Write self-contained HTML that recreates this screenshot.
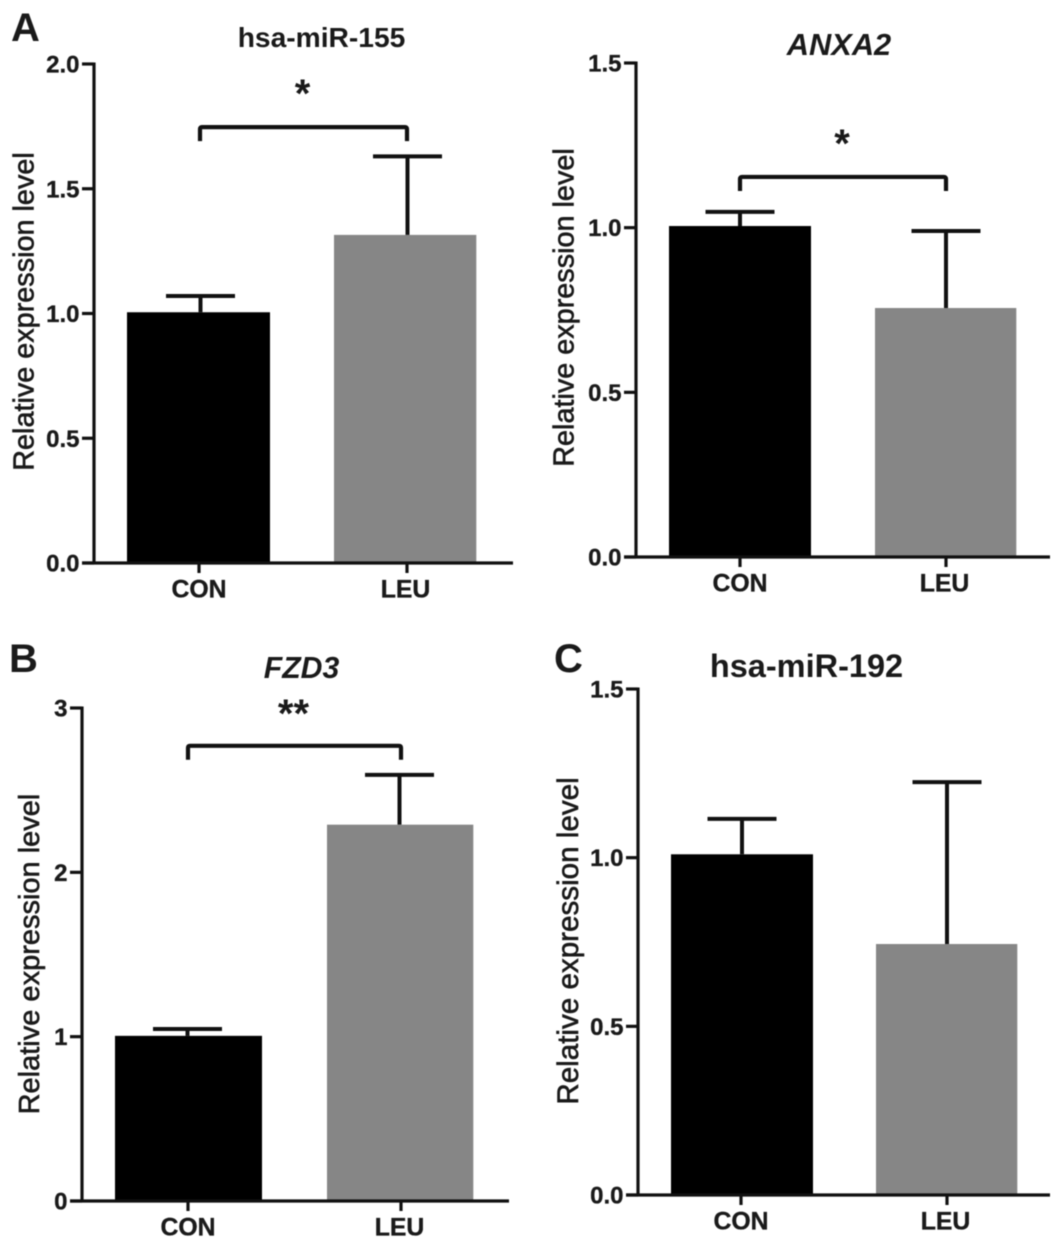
<!DOCTYPE html>
<html lang="en">
<head>
<meta charset="utf-8">
<title>Relative expression levels</title>
<style>
html,body{margin:0;padding:0;background:#fff;}
#figure{display:block;width:1063px;height:1250px;filter:blur(0.5px);}
text{font-family:"Liberation Sans",sans-serif;fill:#1a1a1a;}
</style>
</head>
<body>
<svg id="figure" xmlns="http://www.w3.org/2000/svg" width="1063" height="1250" viewBox="0 0 1063 1250"></svg>
<script>
// Shared category labels and y-axis title
const categories = ['CON', 'LEU'];
const yAxisTitle = 'Relative expression level';

// Panel titles and letters
const panelTitles = ['hsa-miR-155', 'ANXA2', 'FZD3', 'hsa-miR-192'];
const panelLetters = ['A', '', 'B', 'C'];

// Tick labels per panel
const ticksMir155 = ['0.0', '0.5', '1.0', '1.5', '2.0'];
const ticksAnxa2 = ['0.0', '0.5', '1.0', '1.5'];
const ticksFzd3 = ['0', '1', '2', '3'];
const ticksMir192 = ['0.0', '0.5', '1.0', '1.5'];

// Bar means per panel (CON, LEU)
const meansMir155 = [1.005, 1.315];
const meansAnxa2 = [1.005, 0.756];
const meansFzd3 = [1.005, 2.29];
const meansMir192 = [1.01, 0.744];

// Error-bar upper values per panel (CON, LEU)
const upperMir155 = [1.07, 1.63];
const upperAnxa2 = [1.048, 0.99];
const upperFzd3 = [1.047, 2.593];
const upperMir192 = [1.115, 1.224];

// Significance brackets: level on the y scale, and the printed mark
const bracketLevels = [1.747, 1.154, 2.77, null];
const bracketMarks = ['*', '*', '**', ''];

const svg = document.getElementById('figure');
const NS = 'http://www.w3.org/2000/svg';

function make(parent, tag, attrs, content) {
  const el = document.createElementNS(NS, tag);
  for (const k in attrs) el.setAttribute(k, attrs[k]);
  if (content !== undefined) el.textContent = content;
  parent.appendChild(el);
  return el;
}

function drawPanel(opt, ticks, means, upper, index) {
  const g = make(svg, 'g', {});
  
  

  const yMax = parseFloat(ticks[ticks.length - 1]);
  const yScale = function (v) { return opt.y0 - (v / yMax) * (opt.y0 - opt.y1); };
  const xCenter = function (i) { return opt.tickX[0] + i * (opt.tickX[1] - opt.tickX[0]); };
  const barLeft = function (i) { return opt.barX + i * opt.barStep; };

  // bars
  means.forEach(function (m, i) {
    const bar = make(g, 'rect', {
      x: barLeft(i), y: yScale(m), width: opt.barW - i * 0.7, height: opt.y0 - yScale(m),
      fill: i === 0 ? '#000000' : '#868686'
    });
    
    
  });

  // error bars
  upper.forEach(function (u, i) {
    const cx = barLeft(i) + opt.barW / 2 + opt.errDx;
    const path = make(g, 'path', {
      d: 'M' + cx + ' ' + yScale(means[i]) + 'V' + yScale(u) + 'M' + (cx - 34.5) + ' ' + yScale(u) + 'H' + (cx + 34.5),
      fill: 'none', stroke: '#111', 'stroke-width': 4
    });
    
    
  });

  // axes
  const yLine = make(g, 'path', {
    d: 'M' + opt.x0 + ' ' + (opt.y1 - 1.5) + 'V' + (opt.y0 + 1.5),
    fill: 'none', stroke: '#111', 'stroke-width': 3.2
  });
  
  

  const xLine = make(g, 'path', {
    d: 'M' + (opt.x0 - 12) + ' ' + opt.y0 + 'H' + opt.xEnd,
    fill: 'none', stroke: '#111', 'stroke-width': 3.2
  });
  
  

  // y ticks
  ticks.forEach(function (t) {
    const y = yScale(parseFloat(t));
    const tick = make(g, 'path', {
      d: 'M' + (opt.x0 - 12) + ' ' + y + 'H' + opt.x0,
      fill: 'none', stroke: '#111', 'stroke-width': 3.2
    });
    
    
    const label = make(g, 'text', {
      x: opt.x0 - 14.5, y: y + 8.5, 'text-anchor': 'end',
      'font-size': 24, 'font-weight': 'bold', stroke: '#1a1a1a', 'stroke-width': 0.35
    }, t);
    
    
  });

  // x ticks
  categories.forEach(function (c, i) {
    const tick = make(g, 'path', {
      d: 'M' + xCenter(i) + ' ' + opt.y0 + 'V' + (opt.y0 + 10),
      fill: 'none', stroke: '#111', 'stroke-width': 3.2
    });
    
    
    const label = make(g, 'text', {
      x: xCenter(i) + (i === 0 ? 0 : -1.5), y: opt.y0 + 34.5, 'text-anchor': 'middle',
      'font-size': 24.8, 'font-weight': 'bold', stroke: '#1a1a1a', 'stroke-width': 0.35
    }, c);
    
    
  });

  // y-axis title
  const yTitle = make(g, 'text', {
    transform: 'translate(' + opt.yTitleX + ' ' + opt.yTitleY + ') rotate(-90)',
    'text-anchor': 'middle', 'font-size': opt.yTitleSize, stroke: '#1a1a1a', 'stroke-width': 0.6
  }, yAxisTitle);
  
  

  // panel title
  const title = make(g, 'text', {
    x: opt.titleX, y: opt.titleY, 'text-anchor': 'middle',
    'font-size': opt.titleSize, 'font-weight': 'bold',
    'font-style': opt.italic ? 'italic' : 'normal'
  }, panelTitles[index]);
  
  

  // panel letter
  if (panelLetters[index]) {
    const letter = make(g, 'text', {
      x: opt.letterX, y: opt.letterY, 'font-size': 40, 'font-weight': 'bold'
    }, panelLetters[index]);
    
    
  }

  // significance bracket
  if (bracketLevels[index] !== null) {
    const by = yScale(bracketLevels[index]);
    const bx0 = xCenter(0) + opt.brDx[0];
    const bx1 = xCenter(1) + opt.brDx[1];
    const bracket = make(g, 'path', {
      d: 'M' + bx0 + ' ' + (by + 14) + 'V' + (by + 2) + 'Q' + bx0 + ' ' + by + ' ' + (bx0 + 2) + ' ' + by +
         'H' + (bx1 - 2) + 'Q' + bx1 + ' ' + by + ' ' + bx1 + ' ' + (by + 2) + 'V' + (by + 14),
      fill: 'none', stroke: '#111', 'stroke-width': 4.2
    });
    
    
    const mark = make(g, 'text', {
      x: (bx0 + bx1) / 2 - 1, y: by + opt.markDy, 'text-anchor': 'middle',
      'font-size': 40, 'font-weight': 'bold'
    }, bracketMarks[index]);
    
    
  }
}

drawPanel({slug:'mir-155', x0:94, xEnd:513, y0:563, y1:64, barX:127, barW:143, barStep:207, tickX:[199,407], errDx:2, brDx:[1,0],
  yTitleX:33.5, yTitleY:311.5, yTitleSize:28.8, titleX:321.5, titleY:47, titleSize:28.2, italic:false, letterX:11, letterY:41, markDy:-20}, ticksMir155, meansMir155, upperMir155, 0);
drawPanel({slug:'anxa2', x0:636, xEnd:1050, y0:557, y1:63, barX:669, barW:142, barStep:206, tickX:[740,946], errDx:0, brDx:[0,0],
  yTitleX:573.5, yTitleY:307.5, yTitleSize:28.8, titleX:839, titleY:55, titleSize:30.8, italic:true, letterX:0, letterY:0, markDy:-20}, ticksAnxa2, meansAnxa2, upperAnxa2, 1);
drawPanel({slug:'fzd3', x0:82, xEnd:509, y0:1201, y1:708, barX:115, barW:147, barStep:212, tickX:[188,401], errDx:-1, brDx:[0,0],
  yTitleX:39, yTitleY:954, yTitleSize:29, titleX:301.5, titleY:678, titleSize:30.2, italic:true, letterX:9, letterY:672, markDy:-19}, ticksFzd3, meansFzd3, upperFzd3, 2);
drawPanel({slug:'mir-192', x0:638, xEnd:1050, y0:1195, y1:689, barX:671, barW:142, barStep:205, tickX:[741,947], errDx:0, brDx:[0,0],
  yTitleX:578, yTitleY:941, yTitleSize:29.6, titleX:806.5, titleY:677, titleSize:32.5, italic:false, letterX:554, letterY:672, markDy:0}, ticksMir192, meansMir192, upperMir192, 3);
</script>
</body>
</html>
